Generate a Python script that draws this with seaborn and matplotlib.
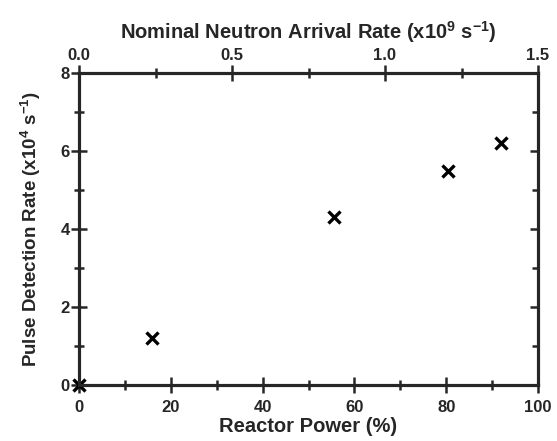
import numpy as np
import pandas as pd
import matplotlib
matplotlib.use("Agg")
import matplotlib.pyplot as plt
from matplotlib.ticker import MultipleLocator, FormatStrFormatter
import seaborn as sns

sns.set_style("ticks")
plt.rcParams["font.family"] = ["Liberation Sans", "DejaVu Sans"]
plt.rcParams["font.weight"] = "bold"
plt.rcParams["mathtext.fontset"] = "custom"
plt.rcParams["mathtext.rm"] = "Liberation Sans:bold"
plt.rcParams["mathtext.bf"] = "Liberation Sans:bold"
plt.rcParams["mathtext.default"] = "bf"

reactor_power = [0, 16, 55.5, 80.5, 92]
detection_rate = [0, 1.2, 4.3, 5.5, 6.2]

df = pd.DataFrame({"power": reactor_power, "rate": detection_rate})

fig = plt.figure(figsize=(5.57, 4.41), dpi=100)
ax = fig.add_axes([79 / 557, 1 - 385 / 441, (538 - 79) / 557, (385 - 73) / 441])

sns.scatterplot(
    data=df,
    x="power",
    y="rate",
    marker="x",
    color="black",
    s=75,
    linewidth=2.4,
    ax=ax,
    clip_on=False,
    zorder=5,
)

ax.set_xlim(0, 100)
ax.set_ylim(0, 8)
ax.xaxis.set_major_locator(MultipleLocator(20))
ax.xaxis.set_minor_locator(MultipleLocator(10))
ax.yaxis.set_major_locator(MultipleLocator(2))
ax.yaxis.set_minor_locator(MultipleLocator(1))

for s in ax.spines.values():
    s.set_linewidth(2.2)
    s.set_color("black")

ax.tick_params(axis="x", which="major", direction="inout", length=11, width=1.8,
               labelsize=12, pad=5)
ax.tick_params(axis="x", which="minor", direction="inout", length=7, width=1.8)
ax.tick_params(axis="y", which="major", direction="inout", length=11, width=1.8,
               labelsize=12, pad=1)
ax.tick_params(axis="y", which="minor", direction="inout", length=7, width=1.8)

for lab in ax.get_xticklabels() + ax.get_yticklabels():
    lab.set_fontweight("bold")

ax.set_xlabel("Reactor Power (%)", fontsize=14.5, fontweight="bold", labelpad=2)
ax.set_ylabel(r"Pulse Detection Rate (x10$^4$ s$^{-1}$)", fontsize=13.5,
              fontweight="bold", labelpad=13)

# right axis: inward ticks only
right = ax.twinx()
right.set_ylim(0, 8)
right.yaxis.set_major_locator(MultipleLocator(2))
right.yaxis.set_minor_locator(MultipleLocator(1))
right.tick_params(which="major", direction="in", length=6, width=1.8, labelright=False)
right.tick_params(which="minor", direction="in", length=4, width=1.8)
right.set_yticklabels([])
for s in right.spines.values():
    s.set_linewidth(2.2)

top = ax.twiny()
top.set_xlim(0, 1.5)
top.xaxis.set_major_locator(MultipleLocator(0.5))
top.xaxis.set_minor_locator(MultipleLocator(0.25))
top.xaxis.set_major_formatter(FormatStrFormatter("%.1f"))
top.tick_params(which="major", direction="inout", length=11, width=1.8,
                labelsize=12, pad=2)
top.tick_params(which="minor", direction="inout", length=7, width=1.8)
for lab in top.get_xticklabels():
    lab.set_fontweight("bold")
for s in top.spines.values():
    s.set_linewidth(2.2)
top.set_xlabel(r"Nominal Neutron Arrival Rate (x10$^9$ s$^{-1}$)", fontsize=14.5,
               fontweight="bold", labelpad=6)

fig.savefig("out.png", dpi=100)
